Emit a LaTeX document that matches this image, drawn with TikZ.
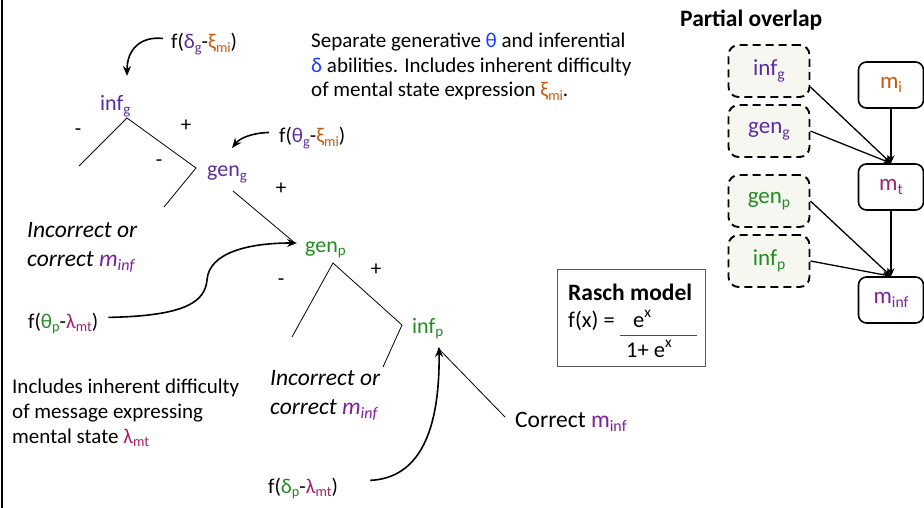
\documentclass[tikz,border=0pt]{standalone}
\usepackage{fontspec}
\setmainfont{Carlito}
\usetikzlibrary{arrows.meta,calc}
\definecolor{gpur}{HTML}{5B2C9F}
\definecolor{pgrn}{HTML}{228B22}
\definecolor{xior}{HTML}{C55A11}
\definecolor{gblu}{HTML}{1A3CFF}
\definecolor{lmag}{HTML}{A3206E}
\definecolor{minf}{HTML}{7E1FA0}
\definecolor{dfill}{HTML}{F7F7F2}
\makeatletter
\newcommand{\sbs}[1]{\raisebox{-0.38ex}{\fontsize{\the\dimexpr 0.68\dimexpr\f@size pt\relax\relax}{1}\selectfont #1}}
\newcommand{\sps}[1]{\raisebox{0.85ex}{\fontsize{\the\dimexpr 0.68\dimexpr\f@size pt\relax\relax}{1}\selectfont #1}}
\makeatother
\begin{document}
\begin{tikzpicture}[x=1pt,y=-1pt,
  every node/.style={inner sep=0pt,font=\fontsize{21}{25}\selectfont},
  lbl/.style={anchor=base west},
  big/.style={font=\fontsize{23.5}{28}\selectfont},
  tl/.style={font=\fontsize{22}{26}\selectfont},
  rx/.style={font=\fontsize{22.5}{27}\selectfont},
  sgn/.style={anchor=center},
  tree/.style={line width=0.8pt},
  arr/.style={line width=1.6pt,-{Stealth[length=10pt,width=8pt]}},
  sarr/.style={line width=1.3pt,-{Stealth[length=8pt,width=7pt]}},
  dbox/.style={draw,line width=1.9pt,dash pattern=on 8pt off 5pt,rounded corners=10pt,fill=dfill,minimum width=81,minimum height=52,font=\fontsize{23}{27}\selectfont},
  mbox/.style={draw,line width=1.6pt,rounded corners=8pt,minimum width=65,minimum height=46,font=\fontsize{23}{27}\selectfont}]
\useasboundingbox (0,0) rectangle (924,508);
\draw[line width=1.6pt] (2,0) -- (2,508);

% top description
\node[lbl] (d1) at (311,48) {Separate generative \textcolor{gblu}{θ} and inferential};
\node[lbl] (d2) at (311,73) {\textcolor{gblu}{δ} abilities. Includes inherent difficulty};
\node[lbl] (d3) at (311,97) {of mental state expression \textcolor{xior}{ξ\sbs{mi}}.};

% generative / inferential tree
\node[lbl] (fdg) at (171,49) {f(\textcolor{gpur}{δ\sbs{g}}-\textcolor{xior}{ξ\sbs{mi}})};
\node[lbl,tl] (infg) at (100,111) {\textcolor{gpur}{inf\sbs{g}}};
\node[lbl] (ftg) at (279,143) {f(\textcolor{gpur}{θ\sbs{g}}-\textcolor{xior}{ξ\sbs{mi}})};
\node[lbl,tl] (geng) at (207,177) {\textcolor{gpur}{gen\sbs{g}}};
\node[lbl,big] (inc1a) at (27,237) {\textit{Incorrect or}};
\node[lbl,big] (inc1b) at (27,266) {\textit{correct \textcolor{minf}{m\sbs{inf}}}};
\node[lbl,tl] (genp) at (305,252) {\textcolor{pgrn}{gen\sbs{p}}};
\node[lbl] (ftp) at (28,328) {f(\textcolor{pgrn}{θ\sbs{p}}-\textcolor{lmag}{λ\sbs{mt}})};
\node[lbl,tl] (infp) at (412,333) {\textcolor{pgrn}{inf\sbs{p}}};
\node[lbl,big] (inc2a) at (270,385) {\textit{Incorrect or}};
\node[lbl,big] (inc2b) at (270,414) {\textit{correct \textcolor{minf}{m\sbs{inf}}}};
\node[lbl,big] (cor) at (515,427) {Correct \textcolor{minf}{m\sbs{inf}}};
\node[lbl] (fdp) at (268,493) {f(\textcolor{pgrn}{δ\sbs{p}}-\textcolor{lmag}{λ\sbs{mt}})};
\node[lbl] (n1) at (12,393) {Includes inherent difficulty};
\node[lbl] (n2) at (12,418) {of message expressing};
\node[lbl] (n3) at (12,443) {mental state \textcolor{lmag}{λ\sbs{mt}}};

% signs
\node[sgn] (s1) at (78,132) {-};
\node[sgn] (s2) at (186,126) {+};
\node[sgn] (s3) at (159,163) {-};
\node[sgn] (s4) at (281,189) {+};
\node[sgn] (s5) at (281,282) {-};
\node[sgn] (s6) at (376,270) {+};

% tree coordinates
\coordinate (a1) at (127,118);
\coordinate (l1) at (79,166);
\coordinate (j1) at (196,168);
\coordinate (l2) at (164,207);
\coordinate (g1) at (233,191);
\coordinate (g2) at (295,243);
\coordinate (a2) at (333,263);
\coordinate (l3) at (292,337);
\coordinate (j2) at (402,325);
\coordinate (l4) at (383,367);
\coordinate (a3) at (438,348);
\coordinate (r3) at (505,417);
\draw[tree] (l1) -- (a1) -- (j1) -- (l2);
\draw[tree] (g1) -- (g2);
\draw[tree] (l3) -- (a2) -- (j2) -- (l4);
\draw[tree] (a3) -- (r3);

% curved arrows
\coordinate (t1) at (127,76);
\coordinate (t2) at (232,148);
\coordinate (t3) at (297,243);
\coordinate (t4) at (439,347);
\draw[arr] ([xshift=-8pt,yshift=6pt]fdg.west) .. controls (140,36) and (127,50) .. (t1);
\draw[arr] ([xshift=-10pt,yshift=6pt]ftg.west) .. controls (252,133) and (240,138) .. (t2);
\draw[arr] ([xshift=10pt,yshift=6pt]ftp.east) .. controls (185,316) and (205,302) .. (207,280)
   .. controls (209,252) and (250,243) .. (t3);
\draw[arr] ([xshift=32pt,yshift=8pt]fdp.east) .. controls (420,478) and (440,430) .. (t4);

% Rasch model
\node[draw=black!65,line width=1pt,minimum width=148,minimum height=97,anchor=north west] (rasch) at (557,269) {};
\node[lbl,font=\fontsize{23.5}{28}\selectfont\bfseries] (rt) at (568,300) {Rasch model};
\node[lbl,rx] (rf) at (568,327) {f(x) =};
\node[lbl,rx] (rn) at (633,327) {e\sps{x}};
\node[lbl,rx] (rd) at (626,357) {1+ e\sps{x}};
\coordinate (fl1) at (620,335);
\coordinate (fl2) at (697,335);
\draw[line width=0.8pt,black!70] (fl1) -- (fl2);

% Partial overlap panel
\node[lbl,font=\fontsize{23.5}{28}\selectfont\bfseries] (po) at (680,27) {Partial overlap};
\node[dbox] (big) at (769,71) {\textcolor{gpur}{inf\sbs{g}}};
\node[dbox] (bgg) at (769,131) {\textcolor{gpur}{gen\sbs{g}}};
\node[dbox] (bgp) at (769,201) {\textcolor{pgrn}{gen\sbs{p}}};
\node[dbox] (bip) at (769,261) {\textcolor{pgrn}{inf\sbs{p}}};
\node[mbox] (mi) at (891,85) {\textcolor{xior}{m\sbs{i}}};
\node[mbox] (mt) at (891,187) {\textcolor{lmag}{m\sbs{t}}};
\node[mbox] (mf) at (891,300) {\textcolor{minf}{m\sbs{inf}}};
\draw[sarr] (mi) -- (mt);
\draw[sarr] (mt) -- (mf);
\draw[sarr] ([yshift=-16pt]big.east) -- (mt.north);
\draw[sarr] (bgg.east) -- (mt.north);
\draw[sarr] (bgp.east) -- (mf.north);
\draw[sarr] (bip.east) -- (mf.north);
\end{tikzpicture}
\end{document}
